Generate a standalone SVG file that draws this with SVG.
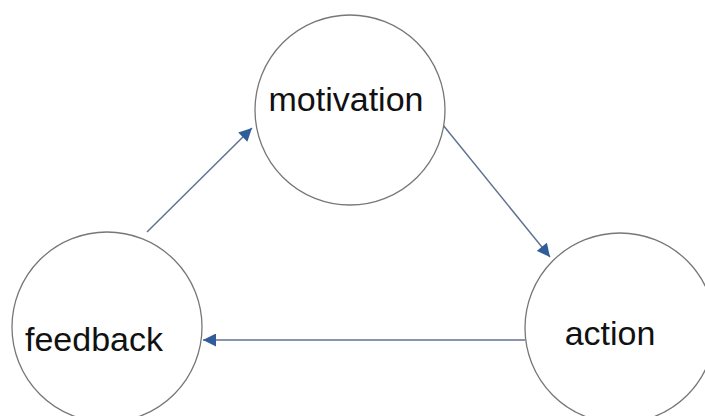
<svg xmlns="http://www.w3.org/2000/svg" width="705" height="416" viewBox="0 0 705 416">
<style>
.node{fill:#ffffff;stroke:#777777;stroke-width:1.3}
.lbl{font-family:"Liberation Sans",Arial,sans-serif;font-size:34px;fill:#111111;text-anchor:middle}
.edge{stroke:#5f7390;stroke-width:1.5;fill:none}
</style>
<defs>
<marker id="ah" viewBox="0 0 10 10" refX="10" refY="5" markerWidth="14" markerHeight="13" markerUnits="userSpaceOnUse" orient="auto">
<path d="M0,0 L10,5 L0,10 z" fill="#2f5d99"/>
</marker>
</defs>
<rect width="705" height="416" fill="#ffffff"/>
<g id="connectors">
<line class="edge" x1="147" y1="232" x2="252" y2="128" marker-end="url(#ah)"/>
<line class="edge" x1="443" y1="125" x2="550" y2="257" marker-end="url(#ah)"/>
<line class="edge" x1="525" y1="340" x2="203" y2="340" marker-end="url(#ah)"/>
</g>
<g id="motivation">
<circle class="node" cx="350" cy="110" r="95"/>
<text class="lbl" x="346" y="111">motivation</text>
</g>
<g id="feedback">
<circle class="node" cx="107" cy="327" r="95"/>
<text class="lbl" x="94" y="351">feedback</text>
</g>
<g id="action">
<circle class="node" cx="620" cy="328" r="95"/>
<text class="lbl" x="610" y="345">action</text>
</g>
</svg>
